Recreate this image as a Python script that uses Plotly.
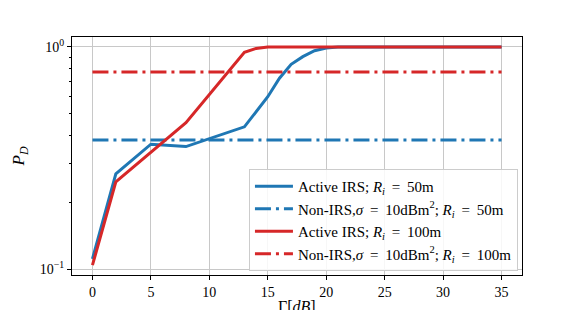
import plotly.graph_objects as go

x_blue = [0, 2, 5, 8, 13, 15, 16, 17, 18, 19, 20, 21, 35]
y_blue = [0.111, 0.268, 0.365, 0.356, 0.437, 0.597, 0.723, 0.836, 0.905, 0.962, 0.99, 1.0, 1.0]
x_red = [0, 2, 8, 13, 14, 15, 35]
y_red = [0.104, 0.247, 0.456, 0.946, 0.985, 1.0, 1.0]
x_flat = [0, 35]
y_nonirs_50 = [0.381, 0.381]
y_nonirs_100 = [0.771, 0.771]

eq = "\u2009=\u2009"
names = [
    f"Active IRS; <i>R<sub>i</sub></i> {eq} 50m",
    f"Non-IRS,<i>σ</i> {eq} 10dBm<sup>2</sup>; <i>R<sub>i</sub></i> {eq} 50m",
    f"Active IRS; <i>R<sub>i</sub></i> {eq} 100m",
    f"Non-IRS,<i>σ</i> {eq} 10dBm<sup>2</sup>; <i>R<sub>i</sub></i> {eq} 100m",
]
xlabel = "Γ[<i>dB</i>]"
blue = "#1f77b4"
red = "#d62728"
dd = "16px,5px,3px,5px"

fig = go.Figure()
fig.add_trace(go.Scatter(x=x_blue, y=y_blue, mode="lines", name=names[0],
                         line=dict(color=blue, width=3)))
fig.add_trace(go.Scatter(x=x_flat, y=y_nonirs_50, mode="lines", name=names[1],
                         line=dict(color=blue, width=3, dash=dd)))
fig.add_trace(go.Scatter(x=x_red, y=y_red, mode="lines", name=names[2],
                         line=dict(color=red, width=3)))
fig.add_trace(go.Scatter(x=x_flat, y=y_nonirs_100, mode="lines", name=names[3],
                         line=dict(color=red, width=3, dash=dd)))

fam = "Liberation Serif"
font = dict(family=fam, size=14, color="black")

fig.update_layout(
    width=573, height=302,
    margin=dict(l=64, r=59, t=29, b=35),
    paper_bgcolor="white", plot_bgcolor="white",
    font=font,
    showlegend=True,
    legend=dict(x=0.991, y=0.017, xanchor="right", yanchor="bottom",
                bgcolor="rgba(255,255,255,0.85)", bordercolor="#cccccc", borderwidth=1,
                font=dict(family=fam, size=15, color="black"),
                itemwidth=38, tracegroupgap=0),
    xaxis=dict(range=[-1.75, 36.75], tickvals=[0, 5, 10, 15, 20, 25, 30, 35],
               tickfont=dict(family=fam, size=14, color="black"),
               showgrid=True, gridcolor="#c8c8c8", gridwidth=1,
               showline=True, linecolor="black", linewidth=1, mirror=True,
               ticks="outside", ticklen=4, tickcolor="black", zeroline=False,
               automargin=False),
    yaxis=dict(type="log", range=[-1.027, 0.045],
               tickvals=[0.1, 1], ticktext=["10<sup>−1</sup>", "10<sup>0</sup>"],
               tickfont=dict(family=fam, size=14, color="black"),
               showgrid=True, gridcolor="#c8c8c8", gridwidth=1,
               showline=True, linecolor="black", linewidth=1, mirror=True,
               ticks="outside", ticklen=4, tickcolor="black", zeroline=False,
               automargin=False,
               minor=dict(tickvals=[0.2, 0.3, 0.4, 0.5, 0.6, 0.7, 0.8, 0.9],
                          ticks="outside", ticklen=2, tickcolor="black", showgrid=False),
               title=dict(text="<i>P<sub>D</sub></i>", standoff=10,
                          font=dict(family=fam, size=17, color="black"))),
    annotations=[dict(text=xlabel, xref="paper", yref="paper", x=0.5, y=0,
                      xanchor="center", yanchor="top", yshift=-21, showarrow=False,
                      font=dict(family=fam, size=16, color="black"))],
)

fig.write_html("out.html")
